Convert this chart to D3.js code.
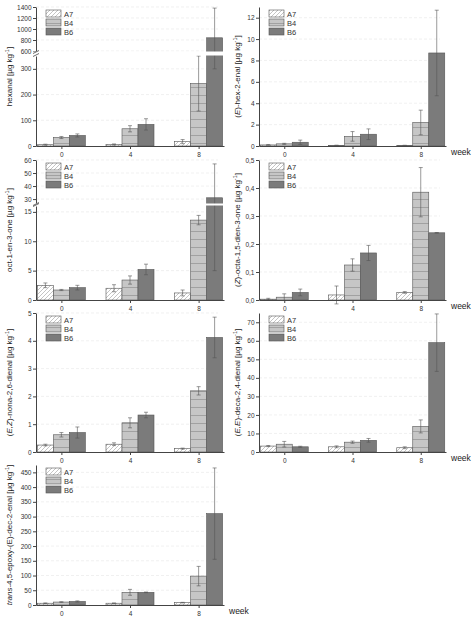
<!DOCTYPE html>
<html><head><meta charset="utf-8">
<script src="https://cdn.jsdelivr.net/npm/d3@7"></script>
<style>
body{margin:0;background:#fff;font-family:"Liberation Sans",Arial,sans-serif;}
.tick text{font-size:6.5px;fill:#333;}
.domain,.tick line{stroke:#444;}
</style></head><body>
<div id="chart"></div>
<script>
var weeks = ["0", "4", "8"];
var groups = ["A7", "B4", "B6"];

var hexanal = [[5, 6, 17], [33, 67, 243], [41, 84, 840]];
var hexanalErr = [[2, 2, 8], [4, 12, 107], [6, 22, 540]];
var hexenal = [[0.1, 0.06, 0.05], [0.2, 0.9, 2.2], [0.35, 1.1, 8.7]];
var hexenalErr = [[0.04, 0.02, 0.02], [0.05, 0.45, 1.15], [0.2, 0.5, 4]];
var octenone = [[2.5, 2.0, 1.2], [1.7, 3.4, 13.6], [2.1, 5.2, 31]];
var octenoneErr = [[0.4, 0.6, 0.5], [0.1, 0.7, 0.8], [0.4, 0.9, 26]];
var octadienone = [[0.003, 0.018, 0.027], [0.01, 0.125, 0.385], [0.027, 0.168, 0.24]];
var octadienoneErr = [[0.003, 0.032, 0.003], [0.012, 0.022, 0.088], [0.012, 0.027, 0.001]];
var nonadienal = [[0.25, 0.28, 0.12], [0.62, 1.05, 2.2], [0.7, 1.33, 4.12]];
var nonadienalErr = [[0.03, 0.05, 0.02], [0.08, 0.18, 0.15], [0.2, 0.1, 0.73]];
var decadienal = [[3.2, 2.8, 2.3], [4.2, 5.3, 13.8], [2.8, 6.3, 59]];
var decadienalErr = [[0.3, 0.5, 0.5], [1.5, 0.6, 3.5], [0.3, 1.0, 15.5]];
var epoxy = [[6, 6, 8], [10, 43, 98], [12, 43, 310]];
var epoxyErr = [[1, 1, 1], [1, 10, 33], [2, 1, 155]];

var comma = function(d) { return String(d).replace(".", ","); };

var panels = [
  {vals: hexanal, err: hexanalErr, col: 0, top: 7, bottom: 146, week: false,
   label: [["hexanal [µg kg", 0], ["-1", 2], ["]", 0]],
   broken: {low: [0, 350], lowTicks: [0, 100, 200, 300], lowTop: 56,
            high: [600, 1400], highTicks: [600, 800, 1000, 1200, 1400], highBottom: 51}},
  {vals: hexenal, err: hexenalErr, col: 1, top: 7, bottom: 146, week: true,
   domain: [0, 13], ticks: [0, 2, 4, 6, 8, 10, 12],
   label: [["(", 0], ["E", 1], [")-hex-2-enal [µg kg", 0], ["-1", 2], ["]", 0]]},
  {vals: octenone, err: octenoneErr, col: 0, top: 160, bottom: 300, week: false,
   label: [["oct-1-en-3-one [µg kg", 0], ["-1", 2], ["]", 0]],
   broken: {low: [0, 16], lowTicks: [0, 5, 10, 15], lowTop: 206,
            high: [27, 60], highTicks: [30, 40, 50, 60], highBottom: 203}},
  {vals: octadienone, err: octadienoneErr, col: 1, top: 160, bottom: 300, week: true,
   domain: [0, 0.5], ticks: [0, 0.1, 0.2, 0.3, 0.4, 0.5], fmt: d3.format(".1f"),
   label: [["(", 0], ["Z", 1], [")-octa-1,5-dien-3-one [µg kg", 0], ["-1", 2], ["]", 0]]},
  {vals: nonadienal, err: nonadienalErr, col: 0, top: 313, bottom: 452, week: false,
   domain: [0, 5], ticks: [0, 1, 2, 3, 4, 5],
   label: [["(", 0], ["E,Z", 1], [")-nona-2,6-dienal [µg kg", 0], ["-1", 2], ["]", 0]]},
  {vals: decadienal, err: decadienalErr, col: 1, top: 313, bottom: 452, week: true,
   domain: [0, 75], ticks: [0, 10, 20, 30, 40, 50, 60, 70],
   label: [["(", 0], ["E,E", 1], [")-deca-2,4-dienal [µg kg", 0], ["-1", 2], ["]", 0]]},
  {vals: epoxy, err: epoxyErr, col: 0, top: 465, bottom: 605, week: true,
   domain: [0, 475], ticks: [0, 50, 100, 150, 200, 250, 300, 350, 400, 450],
   label: [["trans", 1], ["-4,5-epoxy-(E)-dec-2-enal [µg kg", 0], ["-1", 2], ["]", 0]]}
];

var cols = [[36, 224], [259, 446]];
var labelX = [12, 240];
var fills = ["url(#hatch)", "url(#hlines)", "#7b7b7b"];
var barW = 16;

var svg = d3.select("#chart").append("svg").attr("width", 474).attr("height", 619);
var defs = svg.append("defs");
var hp = defs.append("pattern").attr("id", "hatch").attr("patternUnits", "userSpaceOnUse")
  .attr("width", 4).attr("height", 4);
hp.append("rect").attr("width", 4).attr("height", 4).attr("fill", "#fff");
hp.append("path").attr("d", "M-1,5 L5,-1 M-1,1 L1,-1 M3,5 L5,3").attr("stroke", "#aaa").attr("stroke-width", 0.7);
var lp = defs.append("pattern").attr("id", "hlines").attr("patternUnits", "userSpaceOnUse")
  .attr("width", 6).attr("height", 8);
lp.append("rect").attr("width", 6).attr("height", 8).attr("fill", "#c6c6c6");
lp.append("line").attr("x1", 0).attr("x2", 6).attr("y1", 7.5).attr("y2", 7.5).attr("stroke", "#888").attr("stroke-width", 0.6);

panels.forEach(function(p) {
  var g = svg.append("g");
  var xr = cols[p.col];
  var x = d3.scalePoint().domain(weeks).range(xr).padding(0.37);
  var y, segs;
  if (p.broken) {
    var b = p.broken;
    var lo = d3.scaleLinear().domain(b.low).range([p.bottom, b.lowTop]);
    var hi = d3.scaleLinear().domain(b.high).range([b.highBottom, p.top]);
    y = function(v) { return v <= b.low[1] ? lo(Math.max(v, 0)) : (v >= b.high[0] ? hi(v) : (lo(b.low[1]) + hi(b.high[0])) / 2); };
    segs = [{s: lo, t: b.lowTicks}, {s: hi, t: b.highTicks}];
  } else {
    var s = d3.scaleLinear().domain(p.domain).range([p.bottom, p.top]);
    y = s;
    segs = [{s: s, t: p.ticks}];
  }

  // grid
  segs.forEach(function(sg) {
    g.selectAll(null).data(sg.t.filter(function(d) { return d > 0; })).enter().append("line")
      .attr("x1", xr[0]).attr("x2", xr[1] - 6)
      .attr("y1", function(d) { return sg.s(d); }).attr("y2", function(d) { return sg.s(d); })
      .attr("stroke", "#e6e6e6").attr("stroke-width", 0.6).attr("stroke-dasharray", "3,2");
  });

  // bars
  groups.forEach(function(gr, gi) {
    weeks.forEach(function(w, wi) {
      var v = p.vals[gi][wi], e = p.err[gi][wi];
      var cx = x(w) + (gi - 1) * barW;
      g.append("rect").attr("x", cx - barW / 2).attr("width", barW)
        .attr("y", y(v)).attr("height", y(0) - y(v))
        .attr("fill", fills[gi]).attr("stroke", "#555").attr("stroke-width", 0.6);
      var y1 = y(v - e), y2 = y(v + e);
      g.append("line").attr("x1", cx).attr("x2", cx).attr("y1", y1).attr("y2", y2)
        .attr("stroke", "#555").attr("stroke-width", 0.6);
      [y1, y2].forEach(function(yy) {
        g.append("line").attr("x1", cx - 2).attr("x2", cx + 2).attr("y1", yy).attr("y2", yy)
          .attr("stroke", "#555").attr("stroke-width", 0.6);
      });
    });
  });

  // axes
  segs.forEach(function(sg) {
    g.append("g").attr("transform", "translate(" + xr[0] + ",0)")
      .call(d3.axisLeft(sg.s).tickValues(sg.t).tickSize(3).tickPadding(1.5).tickSizeOuter(0)
        .tickFormat(function(d) { return comma(p.fmt ? p.fmt(d) : d); }));
  });
  if (p.broken) {
    var b = p.broken;
    var gy1 = b.highBottom, gy2 = b.lowTop;
    g.append("rect").attr("x", xr[0] - 4).attr("width", xr[1] - xr[0] + 4)
      .attr("y", gy1 + 0.5).attr("height", gy2 - gy1 - 1).attr("fill", "#fff");
    [gy1 + 1, gy2 - 1].forEach(function(yy) {
      g.append("line").attr("x1", xr[0] - 3).attr("x2", xr[0] + 3)
        .attr("y1", yy + 1.5).attr("y2", yy - 1.5).attr("stroke", "#444").attr("stroke-width", 0.8);
    });
  }
  g.append("g").attr("transform", "translate(0," + p.bottom + ")")
    .call(d3.axisBottom(x).tickSize(3).tickSizeOuter(0));

  // legend
  groups.forEach(function(gr, gi) {
    var ly = p.top + 3 + gi * 9;
    g.append("rect").attr("x", xr[0] + 10).attr("y", ly).attr("width", 15).attr("height", 7)
      .attr("fill", fills[gi]).attr("stroke", "#555").attr("stroke-width", 0.6);
    g.append("text").attr("x", xr[0] + 28).attr("y", ly + 6.5).text(gr)
      .attr("font-size", 7.5).attr("fill", "#333");
  });

  // y label
  var lx = labelX[p.col];
  var t = g.append("text").attr("transform", "translate(" + lx + "," + (p.top + p.bottom) / 2 + ") rotate(-90)")
    .attr("text-anchor", "middle").attr("font-size", 8).attr("fill", "#222");
  p.label.forEach(function(part) {
    var ts = t.append("tspan").text(part[0]);
    if (part[1] === 1) ts.attr("font-style", "italic");
    if (part[1] === 2) ts.attr("font-size", 5.5).attr("dy", -3);
    if (part[1] === 0 && part[0] === "]") ts.attr("dy", 3);
  });

  if (p.week) {
    g.append("text").attr("x", xr[1] + 5).attr("y", p.bottom + 9).text("week")
      .attr("font-size", 8.5).attr("fill", "#222");
  }
});
</script>
</body></html>
